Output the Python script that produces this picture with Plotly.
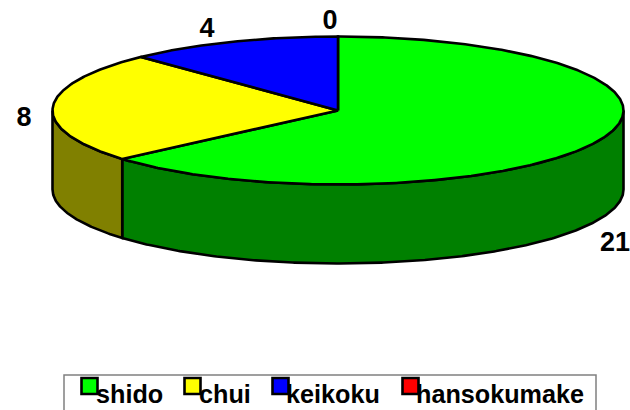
import numpy as np
import plotly.graph_objects as go

categories = ["shido", "chui", "keikoku", "hansokumake"]
values = [21, 8, 4, 0]
top_colors = ["#00ff00", "#ffff00", "#0000ff", "#ff0000"]
side_colors = ["#008000", "#808000", "#000080", "#800000"]
label_positions = [(615, 244), (24, 119), (207, 30), (330, 22)]
legend_swatch_x = [89.5, 192.5, 280.5, 410.5]
legend_text_x = [96, 199, 286, 416]

CX, CY, RX, RY, DEPTH = 338, 110.5, 285.5, 74, 79


def arc(a0, a1, dy=0.0):
    """Points on the rim between two clockwise-from-top angles (degrees)."""
    n = max(2, int(abs(a1 - a0)) * 2 + 2)
    t = np.radians(np.linspace(a0, a1, n))
    return CX + RX * np.sin(t), CY - RY * np.cos(t) + dy


fig = go.Figure()
total = sum(values)
angle = 0.0
slices = []
for name, v, top, side in zip(categories, values, top_colors, side_colors):
    span = 360.0 * v / total
    slices.append((name, angle, angle + span, top, side, v))
    angle += span

line = dict(color="black", width=2.6)
# side walls: only the front half (90..270 degrees) is visible
for name, a0, a1, top, side, v in slices:
    lo, hi = max(a0, 90), min(a1, 270)
    if hi <= lo:
        continue
    x1, y1 = arc(lo, hi)
    x2, y2 = arc(hi, lo, DEPTH)
    fig.add_trace(go.Scatter(
        x=np.r_[x1, x2, x1[0]], y=np.r_[y1, y2, y1[0]], mode="lines",
        fill="toself", fillcolor=side, line=line, name=name,
        hoverinfo="skip", showlegend=False))
# top faces
for name, a0, a1, top, side, v in slices:
    if v == 0:
        continue
    x1, y1 = arc(a0, a1)
    fig.add_trace(go.Scatter(
        x=np.r_[CX, x1, CX], y=np.r_[CY, y1, CY], mode="lines",
        fill="toself", fillcolor=top, line=line, name=name,
        hovertemplate=f"{name}: {v}<extra></extra>", showlegend=False))

# value labels
fig.add_trace(go.Scatter(
    x=[p[0] for p in label_positions], y=[p[1] for p in label_positions],
    mode="text", text=[str(v) for v in values], showlegend=False, hoverinfo="skip",
    textfont=dict(family="Liberation Sans", size=27, color="black", weight="bold"),
    textposition="middle center"))

# legend
fig.add_shape(type="rect", x0=64, x1=596, y0=375, y1=430,
              line=dict(color="#808080", width=1.5), fillcolor="white", layer="below")
fig.add_trace(go.Scatter(
    x=legend_text_x, y=[397] * 4, mode="text", text=categories, showlegend=False, hoverinfo="skip",
    textfont=dict(family="Liberation Sans", size=25.2, color="black", weight="bold"),
    textposition="middle right"))
fig.add_trace(go.Scatter(
    x=legend_swatch_x, y=[386] * 4, mode="markers", showlegend=False, hoverinfo="skip",
    marker=dict(symbol="square", size=16, color=top_colors, line=dict(color="black", width=2.6))))

fig.update_layout(
    width=630, height=410, margin=dict(l=0, r=0, t=0, b=0),
    paper_bgcolor="white", plot_bgcolor="white", showlegend=False,
    xaxis=dict(visible=False, range=[0, 630], fixedrange=True),
    yaxis=dict(visible=False, range=[410, 0], fixedrange=True))
fig.write_html("out.html", config={"displayModeBar": False},
               post_script="document.body.style.margin='0';document.body.style.overflow='hidden';")
